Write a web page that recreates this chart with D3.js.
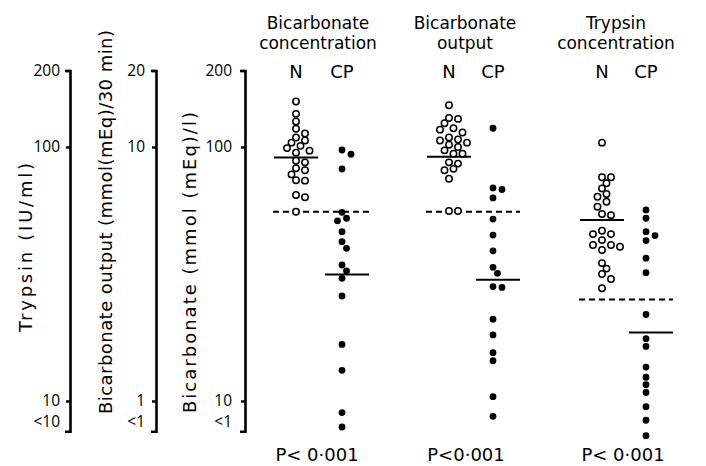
<!DOCTYPE html>
<html><head><meta charset="utf-8">
<script src="https://cdn.jsdelivr.net/npm/d3@7"></script>
<style>
body{margin:0;background:#fff}
svg{display:block}
text{font-family:"DejaVu Sans",sans-serif;fill:#000}
</style>
</head><body>
<svg id="c" width="706" height="466"></svg>
<script>
// ---------- data ----------
const panelTitles = [["Bicarbonate","concentration"],["Bicarbonate","output"],["Trypsin","concentration"]];
const groupNames = ["N","CP"];
const pValues = ["P< 0·001","P<0·001","P< 0·001"];

// Bicarbonate concentration, mmol(mEq)/l
const bicConcN  = [151,135,126,118,113,109,106,104,101,99,96.7,95,88.3,87,82.5,81,78,74,73.7,64.7,63.4,55.6];
const bicConcCP = [97.3,93.6,81.9,55.3,52.4,51.2,46.4,42.4,39.9,34.3,32.5,30.4,25.9,16.7,13.2,9.0,7.9];
const bicConcMean = [91,31.5];
const bicConcLimit = 55.6;

// Bicarbonate output, mmol(mEq)/30 min
const bicOutN  = [14.6,13.0,12.9,12.4,11.85,11.7,11.4,10.9,10.7,10.6,10.4,10.2,10.0,9.7,9.4,9.4,8.7,8.6,8.2,8.1,7.5,5.6,5.6];
const bicOutCP = [11.85,6.9,6.8,6.3,5.2,4.5,3.9,3.36,3.18,2.82,2.80,2.1,1.82,1.55,1.44,1.04,0.87];
const bicOutMean = [9.16,3.0];
const bicOutLimit = 5.56;

// Trypsin concentration, IU/ml
const trypN  = [104,76,76,72,68.7,65.3,63.7,60.9,58.2,54.5,53.9,46.8,45.4,45.4,43,41.1,41.1,40.5,39.3,34.9,33.2,31.6,30.2,27.8];
const trypCP = [56.5,52.4,46.4,44.8,42.8,36.5,32,21.9,17.6,16.4,13.6,12.4,11.6,10.8,9.5,8.4,7.3];
const trypMean = [51.6,18.6];
const trypLimit = 25.1;

// axes (left to right): tick values and labels
const axis1Ticks = [200,100,10], axis1Labels = ["200","100","10"], axis1Less = "<10";
const axis2Ticks = [20,10,1],   axis2Labels = ["20","10","1"],    axis2Less = "<1";
const axis3Ticks = [200,100,10], axis3Labels = ["200","100","10"], axis3Less = "<1";
const axisTitles = ["Trypsin (IU/ml)","Bicarbonate output (mmol(mEq)/30 min)","Bicarbonate (mmol (mEq)/l)"];

// ---------- drawing ----------
const svg = d3.select("#c");
const yRange = [401, 70.5];
const TICKFONT = '"Open Sans",sans-serif';

const axes = [
  {x:70,  ticks:axis1Ticks, labels:axis1Labels, less:axis1Less, pad:6},
  {x:156, ticks:axis2Ticks, labels:axis2Labels, less:axis2Less, pad:7},
  {x:245, ticks:axis3Ticks, labels:axis3Labels, less:axis3Less, pad:9}
];
axes.forEach(a=>{
  const sc = d3.scaleLog().domain([a.ticks[2], a.ticks[0]]).range(yRange);
  const lo = a.ticks[2]*0.76, lt = a.ticks[2]*0.83;
  const as = d3.scaleLog().domain([lo, a.ticks[0]]).range([sc(lo), sc(a.ticks[0])]);
  const g = svg.append("g").attr("transform",`translate(${a.x},0)`)
    .call(d3.axisLeft(as).tickValues([...a.ticks, lt])
      .tickFormat((d,i)=> i<3 ? a.labels[i] : a.less)
      .tickSize(4).tickSizeOuter(5).tickPadding(a.pad));
  g.attr("font-family",TICKFONT).attr("font-size",15.5);
  g.select(".domain").attr("stroke","#000").attr("stroke-width",2.6);
  g.selectAll(".tick line").attr("stroke","#000").attr("stroke-width",2.4);
  g.selectAll(".tick").filter((d,i)=>i===3).select("line").remove();
  g.selectAll(".tick text").attr("fill","#000").style("font-family",TICKFONT);
});

// rotated axis titles
const titlePos = [{x:32,y0:332,y1:163},{x:112,y0:414,y1:30},{x:196,y0:413,y1:112}];
axisTitles.forEach((t,i)=>{
  const p = titlePos[i];
  svg.append("text").attr("transform",`translate(${p.x},${p.y0}) rotate(-90)`)
    .attr("font-size",18).attr("textLength",p.y0-p.y1).attr("lengthAdjust","spacing")
    .text(t);
});

const panels = [
  {cols:[296,342], N:bicConcN, CP:bicConcCP, mean:bicConcMean, limit:bicConcLimit, dom:[10,200], tx:318, px:317},
  {cols:[449,493], N:bicOutN,  CP:bicOutCP,  mean:bicOutMean,  limit:bicOutLimit,  dom:[1,20],   tx:465, px:466},
  {cols:[602,646], N:trypN,    CP:trypCP,    mean:trypMean,    limit:trypLimit,    dom:[10,200], tx:616, px:623}
];

function dodge(values, y, cx, minD){
  const pts = values.map(v=>({v, y:y(v)})).sort((a,b)=>a.y-b.y);
  const placed = [];
  const offs = [0,4.5,-4.5,9,-9,13.5,-13.5,18,-18];
  pts.forEach(p=>{
    for(const o of offs){
      const x = cx+o;
      if(placed.every(q=>Math.hypot(q.x-x,q.y-p.y)>=minD)){p.x=x;break;}
    }
    if(p.x===undefined)p.x=cx;
    placed.push(p);
  });
  return placed;
}

panels.forEach((P,pi)=>{
  const y = d3.scaleLog().domain(P.dom).range(yRange);
  const x = d3.scalePoint().domain(groupNames).range(P.cols);
  // titles
  panelTitles[pi].forEach((t,li)=>{
    svg.append("text").attr("x",P.tx).attr("y",li===0?29:49).attr("text-anchor","middle")
      .attr("font-size",17).text(t);
  });
  groupNames.forEach(gn=>{
    svg.append("text").attr("x",x(gn)).attr("y",78).attr("text-anchor","middle")
      .attr("font-size",18).text(gn);
  });
  // dashed lower limit of normal
  svg.append("line").attr("x1",x("N")-23).attr("x2",x("CP")+27)
    .attr("y1",y(P.limit)).attr("y2",y(P.limit))
    .attr("stroke","#000").attr("stroke-width",2).attr("stroke-dasharray","6,4");
  // mean lines
  svg.append("line").attr("x1",x("N")-22).attr("x2",x("N")+22)
    .attr("y1",y(P.mean[0])).attr("y2",y(P.mean[0])).attr("stroke","#000").attr("stroke-width",2);
  svg.append("line").attr("x1",x("CP")-17).attr("x2",x("CP")+27)
    .attr("y1",y(P.mean[1])).attr("y2",y(P.mean[1])).attr("stroke","#000").attr("stroke-width",2);
  // points
  const nPts = dodge(P.N, y, x("N"), 6.8);
  svg.append("g").selectAll("circle").data(nPts).join("circle")
    .attr("cx",d=>d.x).attr("cy",d=>d.y).attr("r",3.2)
    .attr("fill","#fff").attr("stroke","#000").attr("stroke-width",1.5);
  const cPts = dodge(P.CP, y, x("CP"), 6.8);
  svg.append("g").selectAll("circle").data(cPts).join("circle")
    .attr("cx",d=>d.x).attr("cy",d=>d.y).attr("r",3.4).attr("fill","#000");
  // p value
  svg.append("text").attr("x",P.px).attr("y",461).attr("text-anchor","middle")
    .attr("font-size",18).text(pValues[pi]);
});
</script>
</body></html>
